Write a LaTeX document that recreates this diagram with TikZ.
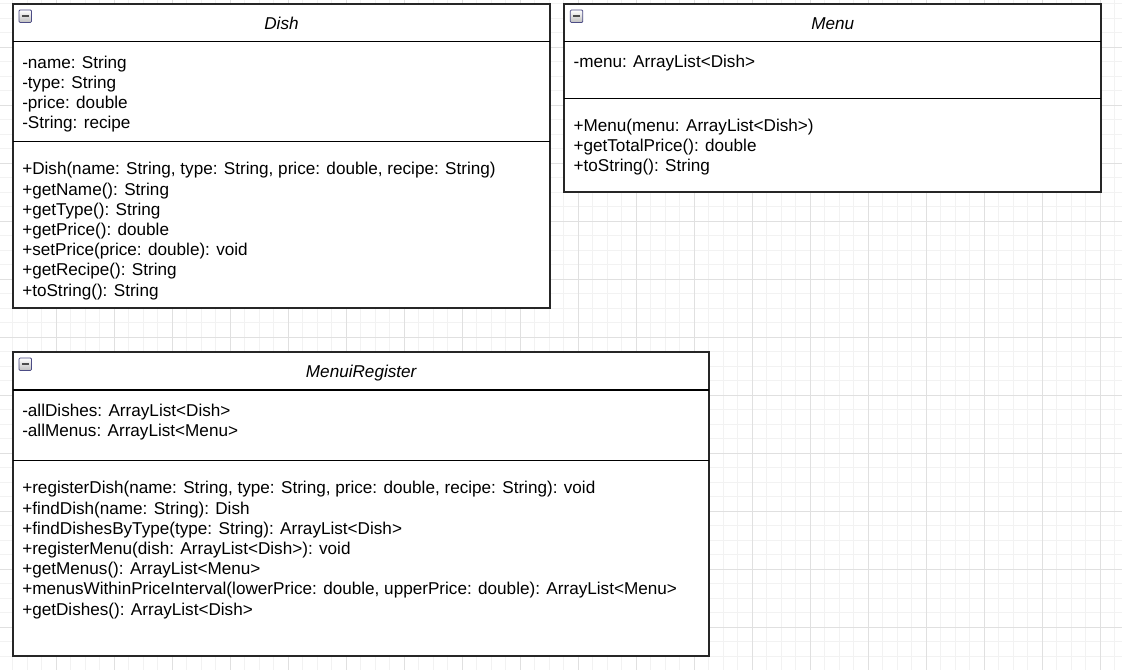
\documentclass[tikz,border=0pt]{standalone}
\usepackage{fontspec}
\setmainfont{Liberation Sans}
\begin{document}
\begin{tikzpicture}[x=0.75pt,y=-0.75pt]
        \tikzstyle{every node} = [font=\fontsize{12.85}{15}\selectfont, inner sep=0pt]
        \tikzstyle{member} = [anchor=base west]
        \tikzstyle{classname} = [anchor=base, font=\fontsize{12.85}{15}\selectfont\itshape]
        \tikzstyle{classbox} = [draw=black!85, line width=1.5pt, fill=white]
        \tikzstyle{divider} = [draw=black, line width=1.1pt]
        \tikzstyle{minorgrid} = [draw=black!5, line width=0.75pt]
        \tikzstyle{majorgrid} = [draw=black!12, line width=0.75pt]
        \useasboundingbox (0,0) rectangle (1122,670);
            \begin{scope}
                \clip (0,0) rectangle (1122,670);
                \fill[white] (0,0) rectangle (1122,670);
                \foreach\k in {0,1,...,78}{
                    \draw[minorgrid] ({-1.7+14.5*\k},0) -- ++(0,670);
                }
                \foreach\k in {0,1,...,47}{
                    \draw[minorgrid] (0,{-10.7+14.5*\k}) -- ++(1122,0);
                }
                \foreach\k in {0,1,...,20}{
                    \draw[majorgrid] ({-1.7+58*\k},0) -- ++(0,670);
                }
                \foreach\k in {0,1,...,12}{
                    \draw[majorgrid] (0,{-10.7+58*\k}) -- ++(1122,0);
                }
            \end{scope}

            % Dish
            \filldraw[classbox] (13,4) rectangle (550,308.5);
            \draw[divider] (13,41.7) -- (550,41.7);
            \draw[divider] (13,141.7) -- (550,141.7);
            \node[classname] (dish) at (281.5,29.8) {Dish};
            \foreach\txt [count=\i from 0] in {{-name: String},{-type: String},{-price: double},{-String: recipe}}{
                \node[member] (dish-attr-\i) at (22,{68.4+20.2*\i}) {\txt};
            }
            \foreach\txt [count=\i from 0] in {{+Dish(name: String, type: String, price: double, recipe: String)},
                {+getName(): String},{+getType(): String},{+getPrice(): double},
                {+setPrice(price: double): void},{+getRecipe(): String},{+toString(): String}}{
                \node[member] (dish-op-\i) at (22,{174.9+20.2*\i}) {\txt};
            }

            % Menu
            \filldraw[classbox] (564.3,4) rectangle (1101,192.3);
            \draw[divider] (564.3,41.7) -- (1101,41.7);
            \draw[divider] (564.3,98.3) -- (1101,98.3);
            \node[classname] (menu) at (832.7,29.8) {Menu};
            \node[member] (menu-attr-0) at (573.3,67.9) {-menu: ArrayList<Dish>};
            \foreach\txt [count=\i from 0] in {{+Menu(menu: ArrayList<Dish>)},{+getTotalPrice(): double},{+toString(): String}}{
                \node[member] (menu-op-\i) at (573.3,{131.5+20.2*\i}) {\txt};
            }

            % MenuiRegister
            \filldraw[classbox] (13,352) rectangle (709.3,656);
            \draw[divider] (13,390) -- (709.3,390);
            \draw[divider] (13,460.7) -- (709.3,460.7);
            \node[classname] (register) at (361.2,378) {MenuiRegister};
            \node[member] (register-attr-0) at (22,416.6) {-allDishes: ArrayList<Dish>};
            \node[member] (register-attr-1) at (22,436.8) {-allMenus: ArrayList<Menu>};
            \foreach\txt [count=\i from 0] in {{+registerDish(name: String, type: String, price: double, recipe: String): void},
                {+findDish(name: String): Dish},{+findDishesByType(type: String): ArrayList<Dish>},
                {+registerMenu(dish: ArrayList<Dish>): void},{+getMenus(): ArrayList<Menu>},
                {+menusWithinPriceInterval(lowerPrice: double, upperPrice: double): ArrayList<Menu>},
                {+getDishes(): ArrayList<Dish>}}{
                \node[member] (register-op-\i) at (22,{493.9+20.2*\i}) {\txt};
            }

            % collapse icons
            \foreach\cx/\cy in {13/4,564.3/4,13/352}{
                \draw[draw=black!45!blue!40!gray, top color=white, bottom color=black!25, line width=0.6pt, rounded corners=0.8pt]
                    (\cx+6,\cy+6) rectangle ++(12.5,12.5);
                \draw[black!70, line width=1.5pt] (\cx+8.8,\cy+12.2) -- ++(7,0);
            }
\end{tikzpicture}
\end{document}
